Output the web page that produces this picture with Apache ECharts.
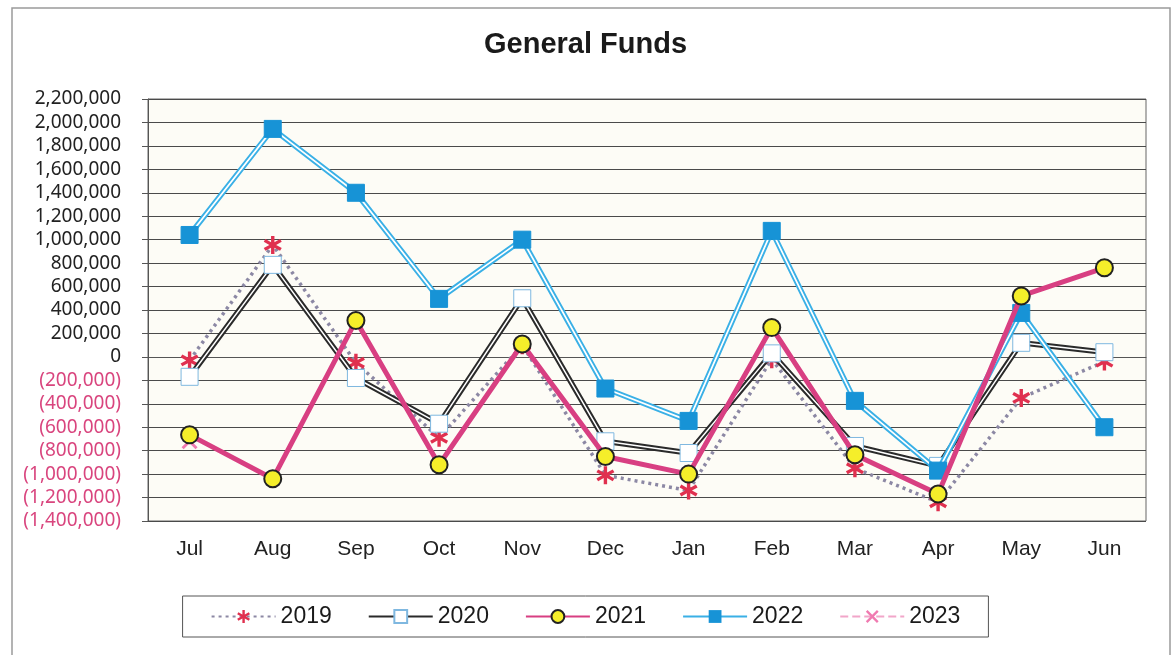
<!DOCTYPE html>
<html>
<head>
<meta charset="utf-8">
<script src="https://cdn.jsdelivr.net/npm/echarts@6/dist/echarts.min.js"></script>
<style>
html,body{margin:0;padding:0;background:#fff;}
#chart{width:1171px;height:655px;}
</style>
</head>
<body>
<div id="chart"></div>
<script>
const categories = ['Jul','Aug','Sep','Oct','Nov','Dec','Jan','Feb','Mar','Apr','May','Jun'];
const s2019 = [-30000, 955000, -50000, -690000, 100000, -1010000, -1140000, -20000, -950000, -1240000, -350000, -40000];
const s2020 = [-170000, 785000, -180000, -570000, 500000, -720000, -820000, 30000, -760000, -930000, 120000, 40000];
const s2021 = [-665000, -1040000, 310000, -920000, 110000, -850000, -1000000, 250000, -835000, -1170000, 520000, 760000];
const s2022 = [1040000, 1945000, 1400000, 495000, 1000000, -270000, -546000, 1075000, -375000, -970000, 375000, -600000];
const s2023 = [-720000, null, null, null, null, null, null, null, null, null, null, null];
const yMin = -1400000, yMax = 2200000, yStep = 200000;

// star-shaped symbol outline (n arms)
function starPath(arms, R, w, offsetDeg){
  const pts = [];
  const r = w / Math.sin(Math.PI / arms);
  for (let k = 0; k < arms; k++){
    const t = (offsetDeg + k * 360 / arms) * Math.PI / 180;
    const cx = R * Math.cos(t), cy = R * Math.sin(t);
    const px = -Math.sin(t) * w, py = Math.cos(t) * w;
    pts.push([cx - px, cy - py], [cx + px, cy + py]);
    const ti = t + Math.PI / arms;
    pts.push([r * Math.cos(ti), r * Math.sin(ti)]);
  }
  return 'path://' + pts.map((p, i) => (i ? 'L' : 'M') + p[0].toFixed(2) + ',' + p[1].toFixed(2)).join(' ') + ' Z';
}
const asterisk = starPath(6, 10, 1.8, 90);
const xmark = starPath(4, 10, 1.5, 45);

function fmt(v){
  const s = Math.abs(v).toString().replace(/\B(?=(\d{3})+(?!\d))/g, ',');
  return v < 0 ? '{n|(' + s + ')}' : '{p|' + s + '}';
}

const chart = echarts.init(document.getElementById('chart'), null, {renderer:'canvas'});
chart.setOption({
  animation:false,
  backgroundColor:'#ffffff',
  graphic:[{type:'rect', shape:{x:12, y:8, width:1158, height:660}, style:{fill:'none', stroke:'#9a9a9a', lineWidth:1.5}, silent:true, z:-10}],
  title:{text:'General Funds', left:'center', top:25,
    textStyle:{fontFamily:'Liberation Sans, Arial', fontWeight:'bold', fontSize:29, color:'#1a1a1a'}},
  grid:{left:148, right:25, top:99, bottom:134, show:true, backgroundColor:'#fdfcf6', borderColor:'#666', borderWidth:1},
  legend:{
    data:['2019','2020','2021','2022','2023'],
    left:'center', top:596, padding:[9,28,9,28], itemGap:36, itemWidth:64, itemHeight:16,
    borderColor:'#555', borderWidth:1, backgroundColor:'#fff',
    textStyle:{fontFamily:'Liberation Sans, Arial', fontSize:23, color:'#1a1a1a'}
  },
  xAxis:{type:'category', data:categories, boundaryGap:true,
    axisLine:{lineStyle:{color:'#555'}}, axisTick:{show:false},
    axisLabel:{margin:18, fontFamily:'Liberation Sans, Arial', fontSize:21, color:'#222'}},
  yAxis:{type:'value', min:yMin, max:yMax, interval:yStep,
    axisLine:{show:true, lineStyle:{color:'#555'}},
    axisTick:{show:true, length:6, lineStyle:{color:'#555'}},
    splitLine:{lineStyle:{color:'#4a4a4a', width:1}},
    axisLabel:{margin:27, formatter:fmt,
      rich:{p:{fontFamily:'Noto Sans, Open Sans', fontSize:19, color:'#222'},
            n:{fontFamily:'Noto Sans, Open Sans', fontSize:19, color:'#d9457e'}}}},
  series:[
    {name:'2023', type:'line', data:s2023, z:2, symbol:xmark, symbolSize:16,
      lineStyle:{color:'#f2a6c9', width:2, type:'dashed'}, itemStyle:{color:'#f07ab0'}},
    {name:'2019', type:'line', data:s2019, z:3, symbol:asterisk, symbolSize:18,
      lineStyle:{color:'#8c88a4', width:3.5, type:[3,4]}, itemStyle:{color:'#e0304f'}},
    {name:'2020', type:'line', data:s2020, z:4, symbol:'rect', symbolSize:17,
      lineStyle:{color:'#2a2a2a', width:5.5}, itemStyle:{color:'#ffffff', borderColor:'#7fb8e0', borderWidth:1}},
    {name:'2020w', type:'line', data:s2020, z:4, symbol:'none', silent:true,
      lineStyle:{color:'#ffffff', width:1.5}},
    {name:'2022', type:'line', data:s2022, z:5, symbol:'rect', symbolSize:17,
      lineStyle:{color:'#3ab0e6', width:5.5}, itemStyle:{color:'#1793d6', borderColor:'#1793d6'}},
    {name:'2022w', type:'line', data:s2022, z:5, symbol:'none', silent:true,
      lineStyle:{color:'#ffffff', width:1.7}},
    {name:'2021', type:'line', data:s2021, z:6, symbol:'circle', symbolSize:17,
      lineStyle:{color:'#d83f82', width:5}, itemStyle:{color:'#f5ee2a', borderColor:'#222', borderWidth:2}}
  ]
});
</script>
</body>
</html>
